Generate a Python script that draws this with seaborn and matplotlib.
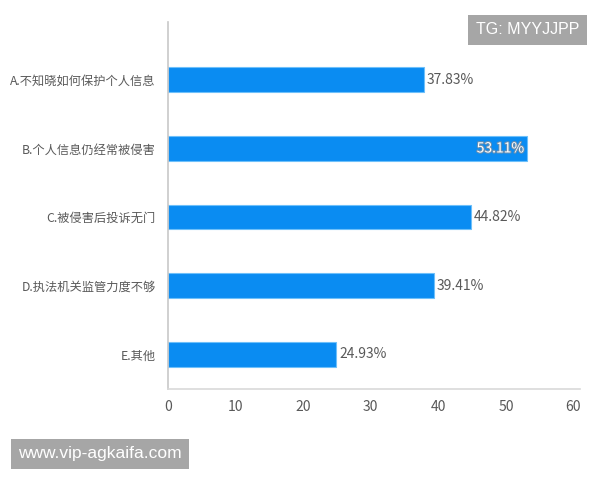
import matplotlib
matplotlib.use('Agg')
import pandas as pd
import seaborn as sns
import matplotlib.pyplot as plt
import matplotlib.patheffects as pe

# data
categories = ['A.不知晓如何保护个人信息', 'B.个人信息仍经常被侵害', 'C.被侵害后投诉无门',
              'D.执法机关监管力度不够', 'E.其他']
values = [37.83, 53.11, 44.82, 39.41, 24.93]
x_ticks = [0, 10, 20, 30, 40, 50, 60]

df = pd.DataFrame({'cat': categories, 'val': values})

sns.set_style('white')
plt.rcParams['font.family'] = ['Noto Sans CJK SC', 'DejaVu Sans']

fig = plt.figure(figsize=(6, 4.8), dpi=100)
ax = fig.add_axes([0.28, 0.19, 0.687, 0.764])

sns.barplot(data=df, x='val', y='cat', orient='h', color='#0A8CF2', saturation=1,
            width=0.36, edgecolor='#6EC0FA', linewidth=0.8, ax=ax)

ax.set_xlim(0, 61)
ax.set_ylim(4.5, -0.84)
ax.set_xticks(x_ticks)
ax.set_xlabel('')
ax.set_ylabel('')
ax.tick_params(axis='x', colors='#595959', labelsize=10, length=0, pad=8)
ax.tick_params(axis='y', colors='#595959', labelsize=8.8, length=0, pad=9)
for lbl in ax.get_xticklabels() + ax.get_yticklabels():
    lbl.set_color('#595959')

for side in ['top', 'right']:
    ax.spines[side].set_visible(False)
ax.spines['left'].set_color('#C8C8C8')
ax.spines['bottom'].set_color('#D9D9D9')
ax.spines['left'].set_linewidth(1.2)
ax.spines['bottom'].set_linewidth(1.2)

# value labels
top = max(values)
for i, v in enumerate(values):
    if v == top:
        ax.text(v - 0.4, i, f'{v:.2f}%', ha='right', va='center', fontsize=10,
                color='white', path_effects=[pe.withStroke(linewidth=1.5, foreground='#6A8FB0')])
    else:
        ax.text(v + 0.4, i, f'{v:.2f}%', ha='left', va='center', fontsize=10, color='#595959')

# watermarks
fig.text(0.9655, 0.9375, 'TG: MYYJJPP', ha='right', va='center', fontsize=11.5, color='white',
         family=['Liberation Sans'],
         bbox=dict(boxstyle='square,pad=0.5', facecolor='#A6A6A6', edgecolor='none'))
fig.text(0.03, 0.0545, 'www.vip-agkaifa.com', ha='left', va='center', fontsize=12.5, color='white',
         family=['Liberation Sans'],
         bbox=dict(boxstyle='square,pad=0.42', facecolor='#A6A6A6', edgecolor='none'))

fig.savefig('out.png', dpi=100)
